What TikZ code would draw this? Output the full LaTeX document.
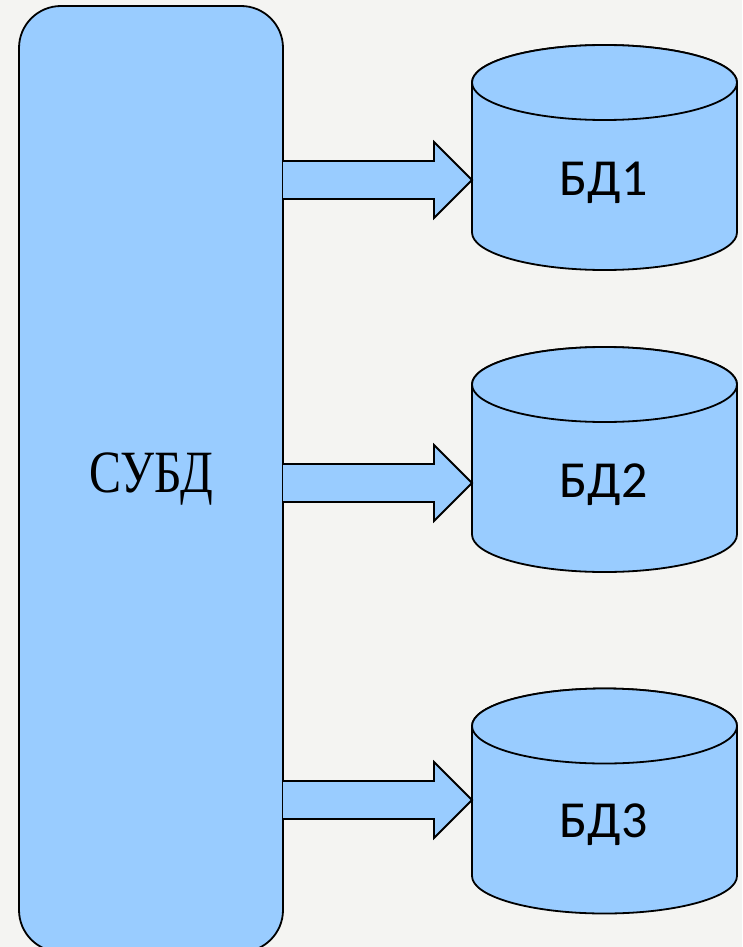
\documentclass[tikz,border=0pt]{standalone}
\usepackage{fontspec}
\setmainfont{Liberation Serif}
\newfontfamily\dbfont{Carlito}
\usetikzlibrary{calc}

\definecolor{boxblue}{HTML}{99CCFF}
\definecolor{paper}{HTML}{F4F4F2}

% cylinder drawn round a named rectangle node: #1 name, #2 x centre, #3 y centre
\newcommand\dbcylinder[3]{%
  \node[dbbox] (#1) at (#2,#3) {};
  \filldraw[shapeline] ([yshift=-37.5pt]#1.north west)
    -- ([yshift=37.5pt]#1.south west)
    arc[start angle=180,end angle=360,x radius=132.5pt,y radius=37.5pt]
    -- ([yshift=-37.5pt]#1.north east)
    arc[start angle=0,end angle=180,x radius=132.5pt,y radius=37.5pt]
    -- cycle;
  \filldraw[shapeline] ([yshift=-37.5pt]#1.north)
    ellipse[x radius=132.5pt,y radius=37.5pt];
}

% block arrow from coordinate #1 (on the DBMS box) to tip coordinate #2
\newcommand\flowarrow[2]{%
  \filldraw[shapeline] ([yshift=19pt]#1)
    -- ([xshift=-38pt,yshift=19pt]#2)
    -- ([xshift=-38pt,yshift=38pt]#2)
    -- (#2)
    -- ([xshift=-38pt,yshift=-38pt]#2)
    -- ([xshift=-38pt,yshift=-19pt]#2)
    -- ([yshift=-19pt]#1);
}

\begin{document}
\begin{tikzpicture}[x=1pt,y=-1pt,
  shapeline/.style={draw=black,line width=1.8pt,fill=boxblue,line join=miter},
  dbbox/.style={draw=none,minimum width=265pt,minimum height=225pt,
    inner sep=0pt,outer sep=0pt},
  dblabel/.style={anchor=base,inner sep=0pt,
    font=\dbfont\fontsize{52}{52}\selectfont},
  dbms/.style={shapeline,rounded corners=42pt,minimum width=264pt,
    minimum height=946pt,inner sep=0pt,outer sep=0pt,
    font=\fontsize{60}{60}\selectfont}]

\useasboundingbox (0,0) rectangle (742,947);
\fill[paper] (0,0) rectangle (742,947);

% the DBMS block
\node[dbms] (subd) at (151,479) {\scalebox{0.8}[1]{СУБД}};

% the three databases
\dbcylinder{db1}{604.5}{157.5}
\dbcylinder{db2}{604.5}{459.5}
\dbcylinder{db3}{604.5}{801}

\node[dblabel] (db1text) at (603.5,195) {БД1};
\node[dblabel] (db2text) at (603.5,497) {БД2};
\node[dblabel] (db3text) at (603.5,837) {БД3};

% arrows from the DBMS to each database
\coordinate (tip1) at (db1.west |- 0,180);
\coordinate (tip2) at (db2.west |- 0,483);
\coordinate (tip3) at (db3.west |- 0,800);
\coordinate (src1) at (subd.east |- tip1);
\coordinate (src2) at (subd.east |- tip2);
\coordinate (src3) at (subd.east |- tip3);

\flowarrow{src1}{tip1}
\flowarrow{src2}{tip2}
\flowarrow{src3}{tip3}
\end{tikzpicture}
\end{document}
